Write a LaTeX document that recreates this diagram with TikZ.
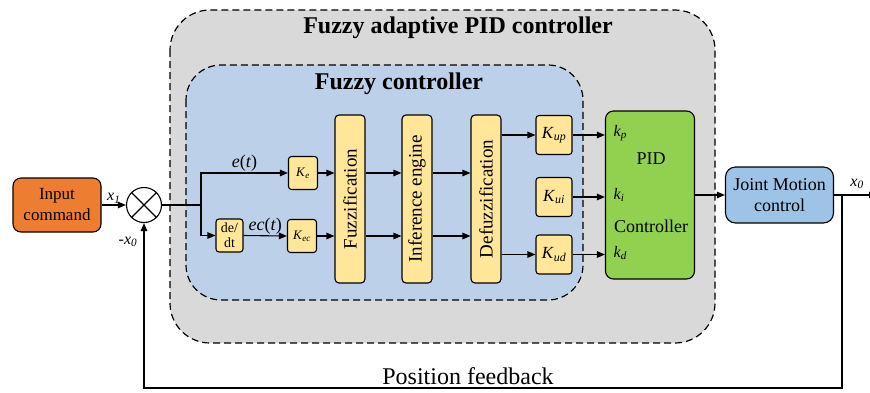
\documentclass[tikz,border=0pt]{standalone}
\usepackage{fontspec}
\setmainfont{Liberation Serif}
\usetikzlibrary{arrows.meta}

\definecolor{cmdorange}{HTML}{ED7D31}
\definecolor{gainyellow}{HTML}{FFE699}
\definecolor{pidgreen}{HTML}{92D050}
\definecolor{fuzzyblue}{RGB}{189,208,234}
\definecolor{outergray}{HTML}{D9D9D9}
\definecolor{jointblue}{HTML}{9DC3E6}

\newcommand{\fsize}[2]{\fontsize{#1}{#2}\selectfont}
\newcommand{\gain}[1]{\textit{K}\textsubscript{\textit{#1}}}
\newcommand{\sig}[2]{\textit{#1}\textsubscript{\textit{#2}}}

\begin{document}
\begin{tikzpicture}[x=1pt, y=-1pt, line width=1.1pt,
        >={Triangle[length=8pt, width=6.5pt]},
        block/.style={draw, rounded corners=4pt, align=center, inner sep=1pt},
        gainbox/.style={block, fill=gainyellow, rounded corners=3pt},
        stage/.style={block, fill=gainyellow, minimum width=30pt, minimum height=168pt, font=\fsize{19}{19}},
        region/.style={draw, dash pattern=on 7pt off 4pt, line width=1.2pt},
        lbl/.style={inner sep=1pt, font=\fsize{16}{16}}]
                \useasboundingbox (0,0) rectangle (870,392);

                % Dashed regions:
                \draw[region, fill=outergray, rounded corners=40pt] (170,10) rectangle (715,343);
                \draw[region, fill=fuzzyblue, rounded corners=35pt] (186,65) rectangle (583,300);
                \node[font=\bfseries\fsize{24}{24}] (pidtitle) at (458,28) {Fuzzy adaptive PID controller};
                \node[font=\bfseries\fsize{24}{24}] (fuzzytitle) at (399,84) {Fuzzy controller};

                % Input and summing junction:
                \node[block, fill=cmdorange, minimum width=88pt, minimum height=54pt, rounded corners=8pt, font=\fsize{17}{21}] (input) at (57,205) {Input\\command};
                \node[draw, circle, fill=white, minimum size=35pt, inner sep=0pt] (sum) at (144,205) {};
                \draw (sum.north west) -- (sum.south east) (sum.north east) -- (sum.south west);
                \draw[->] (input.east) -- (sum.west) node[midway, above, lbl] {\sig{x}{1}};
                \node[lbl] (xneg) at (128,242) {-\sig{x}{0}};

                % Fuzzy controller blocks:
                \node[gainbox, minimum width=29pt, minimum height=33pt, font=\fsize{13}{15}] (ke) at (303,173) {\gain{e}};
                \node[gainbox, minimum width=27pt, minimum height=33pt, inner sep=0pt, font=\fsize{14}{15}] (dedt) at (229.5,235.5) {de/\\dt};
                \node[gainbox, minimum width=29pt, minimum height=33pt, font=\fsize{13}{15}] (kec) at (302,236) {\gain{ec}};
                \node[stage] (fuzz) at (350,199) {\rotatebox{90}{Fuzzification}};
                \node[stage] (infer) at (417,199) {\rotatebox{90}{Inference engine}};
                \node[stage] (defuzz) at (486,199) {\rotatebox{90}{Defuzzification}};
                \node[gainbox, minimum width=36pt, minimum height=39pt, font=\fsize{17}{20}] (kup) at (554,135) {\gain{up}};
                \node[gainbox, minimum width=36pt, minimum height=39pt, font=\fsize{17}{20}] (kui) at (554,197) {\gain{ui}};
                \node[gainbox, minimum width=36pt, minimum height=39pt, font=\fsize{17}{20}] (kud) at (554,254.5) {\gain{ud}};

                % PID and plant:
                \node[block, fill=pidgreen, minimum width=89pt, minimum height=168pt, rounded corners=8pt] (pid) at (650,195) {};
                \node[font=\fsize{18}{18}] (pidtext) at (651,159) {PID};
                \node[font=\fsize{18}{18}] (ctrltext) at (651,226) {Controller};
                \node[lbl, anchor=west] (kp) at (612,133) {\sig{k}{p}};
                \node[lbl, anchor=west] (ki) at (612,195) {\sig{k}{i}};
                \node[lbl, anchor=west] (kd) at (612,253) {\sig{k}{d}};
                \node[block, fill=jointblue, minimum width=108pt, minimum height=56pt, rounded corners=10pt, font=\fsize{18}{21}] (joint) at (779.5,195) {Joint Motion\\control};

                % Error and its derivative:
                \draw (sum.east) -- (201,205) coordinate (split);
                \draw[->] (split) |- (ke.west) node[pos=0.75, above, lbl, font=\fsize{18}{18}] {\textit{e}(\textit{t})};
                \draw[->] (split) |- (dedt.west);
                \draw[->] (dedt.east) -- (kec.west) node[midway, above, lbl, font=\fsize{18}{18}] {\textit{ec}(\textit{t})};

                % Through the fuzzy stages:
                \draw[->] (ke.east) -- (ke.east -| fuzz.west);
                \draw[->] (kec.east) -- (kec.east -| fuzz.west);
                \draw[->] (fuzz.east |- ke) -- (infer.west |- ke);
                \draw[->] (fuzz.east |- kec) -- (infer.west |- kec);
                \draw[->] (infer.east |- ke) -- (defuzz.west |- ke);
                \draw[->] (infer.east |- kec) -- (defuzz.west |- kec);
                \draw[->] (defuzz.east |- kup) -- (kup.west);
                \draw[->] (defuzz.east |- kud) -- (kud.west);

                % Gains into the PID:
                \draw[->] (kup.east) -- (kup.east -| pid.west);
                \draw[->] (kui.east) -- (kui.east -| pid.west);
                \draw[->] (kud.east) -- (kud.east -| pid.west);
                \draw[->] (pid.east |- joint) -- (joint.west);

                % Output and position feedback:
                \coordinate (outend) at (877,195);
                \coordinate (fb) at (842,195);
                \coordinate (fbbottom) at (0,388);
                \draw[->] (joint.east) -- (outend);
                \node[lbl] (xout) at (857,184) {\sig{x}{0}};
                \draw[->] (fb) |- (fbbottom -| sum) -- (sum.south);
                \node[font=\fsize{24}{24}] (fblabel) at (468,376) {Position feedback};
\end{tikzpicture}
\end{document}
